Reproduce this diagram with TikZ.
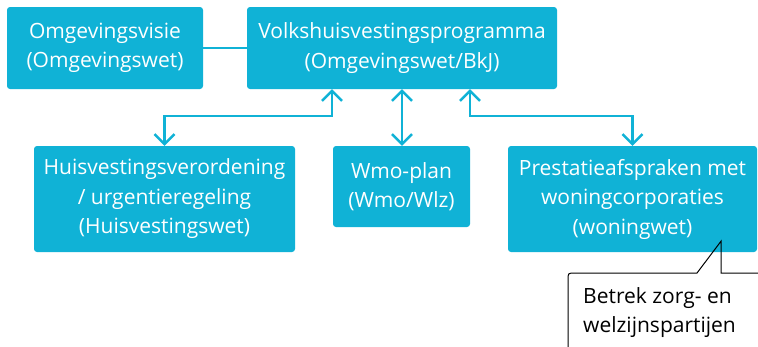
\documentclass[tikz,border=0pt]{standalone}
\usepackage{fontspec}
\setmainfont{Open Sans}
\usetikzlibrary{arrows.meta}

\begin{document}
\begin{tikzpicture}[x=1pt, y=-1pt]

    \definecolor{boxcolor}{RGB}{16,178,214}
    \tikzset{
        plan/.style={fill=boxcolor, text=white, rounded corners=3pt, align=center,
                     inner sep=0pt, font=\fontsize{21}{29.5}\selectfont},
        link/.style={draw=boxcolor, line width=2.5pt},
        >={Straight Barb[length=10pt, width=20pt]}
    }

    \useasboundingbox (0,0) rectangle (758,346);
    \clip (0,0) rectangle (758,346);

    \node[plan, minimum width=196pt, minimum height=82pt] (visie) at (105,48)
        {Omgevingsvisie\\(Omgevingswet)};
    \node[plan, minimum width=310pt, minimum height=82pt] (prog) at (402,48)
        {Volkshuisvestingsprogramma\\(Omgevingswet/BkJ)};
    \node[plan, minimum width=261pt, minimum height=106pt] (hvv) at (164.5,199)
        {Huisvestingsverordening\\/ urgentieregeling\\(Huisvestingswet)};
    \node[plan, minimum width=137pt, minimum height=81pt] (wmo) at (401.5,186.5)
        {Wmo-plan\\(Wmo/Wlz)};
    \node[plan, minimum width=249pt, minimum height=106pt] (prest) at (632.5,199)
        {Prestatieafspraken met\\woningcorporaties\\(woningwet)};

    \draw[link] (visie.east) -- (prog.west);
    \draw[link, <->] ([xshift=-70pt]prog.south) -- ++(0,27) -| (hvv.north);
    \draw[link, <->] (prog.south) -- (prog.south |- wmo.north);
    \draw[link, <->] ([xshift=68pt]prog.south) -- ++(0,27) -| (prest.north);

    % remark below the right box
    \node[anchor=west, align=left, inner sep=3pt, font=\fontsize{21}{29}\selectfont] (note) at (580,313)
        {Betrek zorg- en\\welzijnspartijen};
    \coordinate (tip) at ([xshift=88.5pt, yshift=11pt]prest.south);
    \draw[line width=1pt] (568,360) -- (568,280) .. controls (568,273) .. (575,273)
        -- (697,273) -- (tip) -- (tip |- 0,273) -- (770,273);

\end{tikzpicture}
\end{document}
